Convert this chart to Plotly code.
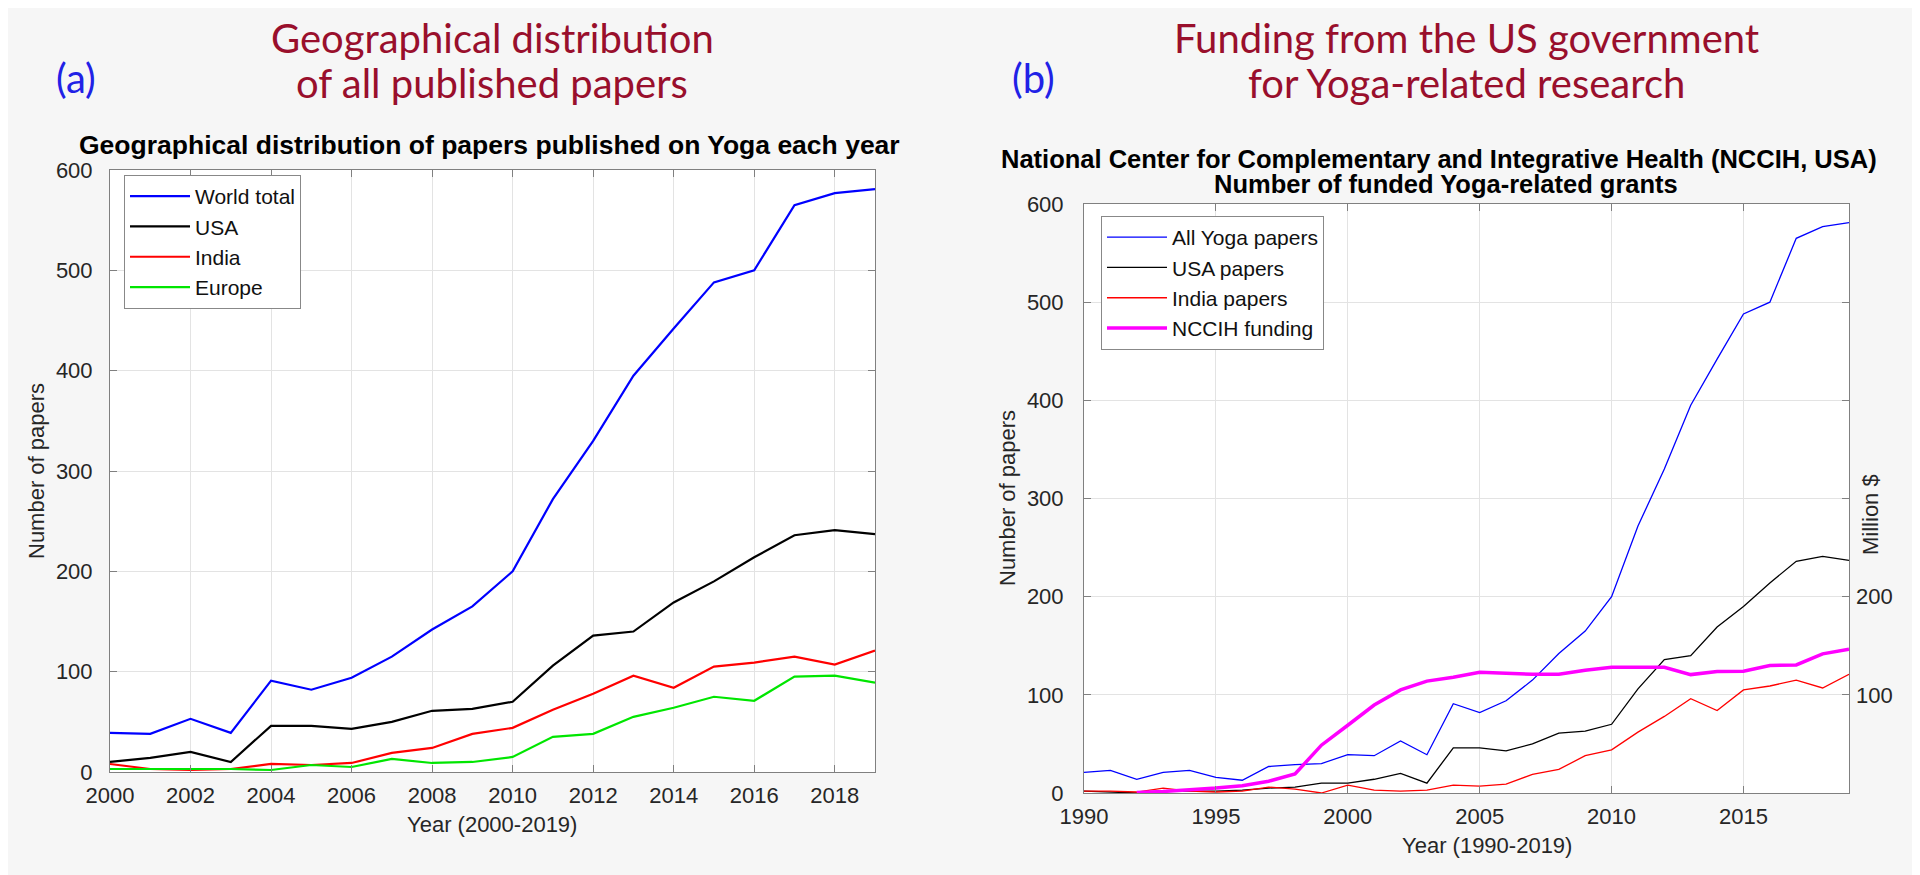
import plotly.graph_objects as go

# ---------------- data ----------------
years_a = [2000, 2001, 2002, 2003, 2004, 2005, 2006, 2007, 2008, 2009,
           2010, 2011, 2012, 2013, 2014, 2015, 2016, 2017, 2018, 2019]
world = [39, 38, 53, 39, 91, 82, 94, 115, 142, 165,
         200, 272, 330, 395, 442, 488, 500, 565, 577, 581]
usa = [10, 14, 20, 10, 46, 46, 43, 50, 61, 63,
       70, 106, 136, 140, 169, 190, 214, 236, 241, 237]
india = [8, 3, 2, 3, 8, 7, 9, 19, 24, 38,
         44, 62, 78, 96, 84, 105, 109, 115, 107, 121]
europe = [3, 3, 3, 3, 2, 7, 5, 13, 9, 10,
          15, 35, 38, 55, 64, 75, 71, 95, 96, 89]

years_b = [1990, 1991, 1992, 1993, 1994, 1995, 1996, 1997, 1998, 1999] + years_a
world_early = [21, 23, 14, 21, 23, 16, 13, 27, 29, 30]
usa_early = [2, 1, 0, 2, 2, 2, 3, 5, 6, 10]
india_early = [2, 2, 1, 5, 2, 1, 2, 6, 4, 0]
funding = [None, None, 0.5, 1.5, 3.4, 5, 7.5, 12, 19.4, 48.7,
           69, 89.6, 105, 114, 118, 123, 122, 121, 121, 125,
           128, 128, 128, 120.6, 123.7, 124, 129.8, 130.5, 141.7, 146.5]

ticks_a = [2000, 2002, 2004, 2006, 2008, 2010, 2012, 2014, 2016, 2018]
ticks_b = [1990, 1995, 2000, 2005, 2010, 2015]
ticks_y = [0, 100, 200, 300, 400, 500, 600]
ticks_money = [100, 200]

# ---------------- geometry helpers ----------------
W, H = 1920, 875
def px(x):
    return x / W
def py(y):
    return 1 - y / H

FONT = "Liberation Sans, Arial, Helvetica, sans-serif"
TITLE_FONT = "Lato, Carlito, Calibri, sans-serif"
AX_COL = "#808080"
GRID_COL = "#e3e3e3"

fig = go.Figure()

# panel (a)
fig.add_trace(go.Scatter(x=years_a, y=world, mode="lines", name="World total",
                         line=dict(color="#0000ff", width=2.2), legend="legend"))
fig.add_trace(go.Scatter(x=years_a, y=usa, mode="lines", name="USA",
                         line=dict(color="#000000", width=2.2), legend="legend"))
fig.add_trace(go.Scatter(x=years_a, y=india, mode="lines", name="India",
                         line=dict(color="#ff0000", width=2.2), legend="legend"))
fig.add_trace(go.Scatter(x=years_a, y=europe, mode="lines", name="Europe",
                         line=dict(color="#00e600", width=2.2), legend="legend"))

# panel (b)
fig.add_trace(go.Scatter(x=years_b, y=world_early + world, mode="lines", name="All Yoga papers",
                         line=dict(color="#0000ff", width=1.3), xaxis="x2", yaxis="y2", legend="legend2"))
fig.add_trace(go.Scatter(x=years_b, y=usa_early + usa, mode="lines", name="USA papers",
                         line=dict(color="#000000", width=1.3), xaxis="x2", yaxis="y2", legend="legend2"))
fig.add_trace(go.Scatter(x=years_b, y=india_early + india, mode="lines", name="India papers",
                         line=dict(color="#ff0000", width=1.3), xaxis="x2", yaxis="y2", legend="legend2"))
fig.add_trace(go.Scatter(x=years_b, y=funding, mode="lines", name="NCCIH funding",
                         line=dict(color="#ff00ff", width=3.5), xaxis="x2", yaxis="y3", legend="legend2"))

axis_common = dict(showline=True, linecolor=AX_COL, linewidth=1, mirror="ticks",
                   ticks="inside", ticklen=7, tickcolor=AX_COL, showgrid=True,
                   gridcolor=GRID_COL, gridwidth=1, zeroline=False, automargin=False,
                   tickfont=dict(family=FONT, size=22, color="#262626"))

# left plot: x 102-867, y 162-764 ; right plot: x 1076-1841, y 196-785
fig.update_layout(
    width=W, height=H,
    margin=dict(l=0, r=0, t=0, b=0, autoexpand=False),
    paper_bgcolor="#f6f6f6",
    plot_bgcolor="#ffffff",
    showlegend=True,
    xaxis=dict(domain=[px(102), px(867)], range=[2000, 2019], tickvals=ticks_a,
               anchor="y", ticklabelstandoff=4, **axis_common),
    yaxis=dict(domain=[py(764), py(162)], range=[0, 600], tickvals=ticks_y,
               anchor="x", ticklabelstandoff=12, **axis_common),
    xaxis2=dict(domain=[px(1076), px(1841)], range=[1990, 2019], tickvals=ticks_b,
                anchor="y2", ticklabelstandoff=4, **axis_common),
    yaxis2=dict(domain=[py(785), py(196)], range=[0, 600], tickvals=ticks_y,
                anchor="x2", ticklabelstandoff=15, **axis_common),
    yaxis3=dict(overlaying="y2", side="right", range=[0, 600], tickvals=ticks_money,
                anchor="x2", showgrid=False, showline=False, zeroline=False, automargin=False,
                ticks="inside", ticklen=7, tickcolor=AX_COL, ticklabelstandoff=6,
                tickfont=dict(family=FONT, size=22, color="#262626")),
    legend=dict(x=px(116), y=py(167), xanchor="left", yanchor="top",
                bgcolor="#ffffff", bordercolor="#888888", borderwidth=1,
                font=dict(family=FONT, size=21, color="#111111"),
                tracegroupgap=0, itemwidth=60),
    legend2=dict(x=px(1093), y=py(208), xanchor="left", yanchor="top",
                 bgcolor="#ffffff", bordercolor="#888888", borderwidth=1,
                 font=dict(family=FONT, size=21, color="#111111"),
                 tracegroupgap=0, itemwidth=60),
)

ann = []
def text(x, y, s, size, color, family, angle=0, bold=False):
    if bold:
        s = "<b>" + s + "</b>"
    ann.append(dict(x=px(x), y=py(y), xref="paper", yref="paper", text=s,
                    showarrow=False, xanchor="center", yanchor="middle",
                    textangle=angle, font=dict(size=size, color=color, family=family)))

TITLE_RED = "#990f2c"
LBL_BLUE = "#2121e6"
text(68, 70, "(a)", 40, LBL_BLUE, TITLE_FONT)
text(484, 30, "Geographical distribution", 40, TITLE_RED, TITLE_FONT)
text(484, 75, "of all published papers", 40, TITLE_RED, TITLE_FONT)
text(481, 137, "Geographical distribution of papers published on Yoga each year", 26.5, "#000000", FONT, bold=True)
text(484, 816, "Year (2000-2019)", 22, "#262626", FONT)
text(28, 463, "Number of papers", 22, "#262626", FONT, angle=-90)

text(1025, 70, "(b)", 40, LBL_BLUE, TITLE_FONT)
text(1458, 30, "Funding from the US government", 40, TITLE_RED, TITLE_FONT)
text(1458, 75, "for Yoga-related research", 40, TITLE_RED, TITLE_FONT)
text(1431, 151, "National Center for Complementary and Integrative Health (NCCIH, USA)", 25.5, "#000000", FONT, bold=True)
text(1438, 176, "Number of funded Yoga-related grants", 25.5, "#000000", FONT, bold=True)
text(1479, 837, "Year (1990-2019)", 22, "#262626", FONT)
text(999, 490, "Number of papers", 22, "#262626", FONT, angle=-90)
text(1862, 507, "Million $", 22, "#262626", FONT, angle=-90)

fig.update_layout(annotations=ann)
fig.write_html("out.html")
